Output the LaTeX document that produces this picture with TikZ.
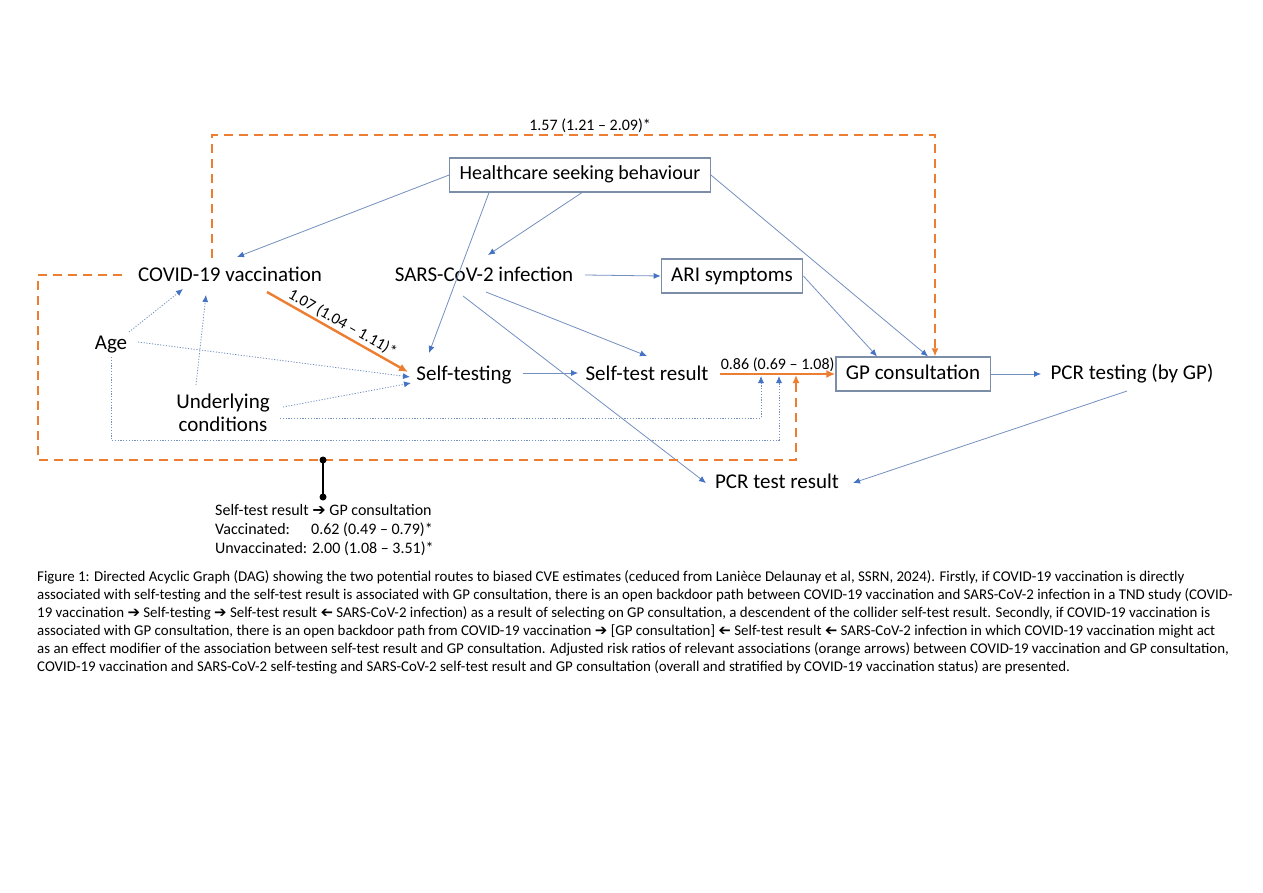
\documentclass[tikz,border=0pt]{standalone}
\usepackage{fontspec}
\usepackage{graphicx}
\setmainfont{Carlito}
\newfontfamily\arrowfont{DejaVu Sans}
\usetikzlibrary{calc}
\usetikzlibrary{arrows.meta}
\definecolor{dagblue}{HTML}{4472C4}
\definecolor{dagline}{HTML}{7490C0}
\definecolor{boxgray}{HTML}{7C8DA8}
\definecolor{dagorange}{HTML}{ED7D31}
\newcommand{\toarr}{{\arrowfont ➔}}
\newcommand{\fromarr}{\reflectbox{\arrowfont ➔}}

\begin{document}
\begin{tikzpicture}[x=1pt, y=-1pt,
  lbl/.style={font=\fontsize{21}{23}\selectfont, inner sep=2, text height=14, text depth=4},
  boxed/.style={lbl, draw=boxgray, line width=1.2, inner xsep=10, minimum height=34},
  numlbl/.style={font=\fontsize{16}{19}\selectfont, text=black, inner sep=2},
  conn/.style={dagline, line width=0.8, -{Latex[length=7,width=6,color=dagblue]}},
  dotconn/.style={conn, dash pattern=on 1.2pt off 1.6pt},
  orconn/.style={dagorange, line width=2.4, -{Latex[length=9,width=8]}},
  ordash/.style={dagorange, line width=1.9, dash pattern=on 9pt off 6pt, -{Latex[length=8,width=7]}},
  capt/.style={font=\fontsize{14.9}{18}\selectfont, align=left, inner sep=0}]
\useasboundingbox[fill=white] (0,0) rectangle (1263,893);

% variables
\node[boxed, font=\fontsize{20}{23}\selectfont] (hsb) at (580,175) {Healthcare seeking behaviour};
\node[lbl] (covid) at (230,277) {COVID-19 vaccination};
\node[lbl] (sars) at (484,277) {SARS-CoV-2 infection};
\node[boxed] (ari) at (732,276) {ARI symptoms};
\node[lbl] (age) at (111,344) {Age};
\node[font=\fontsize{21}{23}\selectfont, align=center, inner sep=2] (under) at (223,413) {Underlying\\conditions};
\node[lbl] (selftest) at (464,375) {Self-testing};
\node[lbl] (selfres) at (647,375) {Self-test result};
\node[boxed] (gp) at (913,374) {GP consultation};
\node[lbl] (pcrtest) at (1132,374) {PCR testing (by GP)};
\node[lbl] (pcrres) at (777,483) {PCR test result};

% causal arrows
\draw[conn] (hsb.west) -- ([xshift=7,yshift=20]covid.center);
\draw[conn] ([xshift=-91]hsb.south) -- ([xshift=-35,yshift=22]selftest.center);
\draw[conn] ([xshift=2]hsb.south) -- ([xshift=4,yshift=22]sars.center);
\draw[conn] (hsb.east) -- ([xshift=15]gp.north);
\draw[conn] (ari.east) -- ([xshift=-36]gp.north);
\draw[conn] ([xshift=101,yshift=2]sars.center) -- (ari.west);
\draw[conn] ([xshift=2,yshift=-15]sars.center) -- ([yshift=19]selfres.center);
\draw[conn] ([xshift=-21,yshift=-19]sars.center) -- ([xshift=-71]pcrres.center);
\draw[conn] ([xshift=59,yshift=2]selftest.center) -- ([xshift=-69,yshift=2]selfres.center);
\draw[conn] (gp.east) -- ([xshift=-91]pcrtest.center);
\draw[conn] ([xshift=-5,yshift=-17]pcrtest.center) -- ([xshift=76]pcrres.center);

% confounders
\coordinate (tapA) at (761,376);
\coordinate (tapB) at (779,376);
\draw[dotconn] ([xshift=18,yshift=12]age.center) -- ([xshift=-47,yshift=-12]covid.center);
\draw[dotconn] ([xshift=-27,yshift=28]under.center) -- ([xshift=-24,yshift=-18]covid.center);
\draw[dotconn] ([xshift=27,yshift=2]age.center) -- ([xshift=-54,yshift=-2]selftest.center);
\draw[dotconn] ([xshift=60,yshift=6]under.center) -- ([xshift=-53,yshift=-8]selftest.center);
\draw[dotconn] ([xshift=57,yshift=-5]under.center) -| (tapA);
\draw[dotconn] ([yshift=-13]age.center) |- ([yshift=-64]tapB) -- (tapB);

% orange associations
\draw[orconn] ([xshift=37,yshift=-15]covid.center) -- node[numlbl, sloped, above, pos=0.5] {1.07 (1.04 – 1.11)*} ([xshift=-56,yshift=3]selftest.center);
\draw[orconn] ([xshift=73,yshift=1]selfres.center) -- node[numlbl, above, inner sep=1] {0.86 (0.69 – 1.08)} (gp.west);

\coordinate (topbend) at (212,135);
\coordinate (gpTop) at ([xshift=22]gp.north);
\draw[ordash] ([xshift=-18,yshift=19]covid.center) -- (topbend) -- node[numlbl, above, pos=0.523, inner sep=1] {1.57 (1.21 – 2.09)*} (topbend -| gpTop) -- (gpTop);

\coordinate (boxnw) at (38,275);
\coordinate (boxsw) at (38,460);
\coordinate (tapC) at (796,375);
\draw[ordash] ([xshift=-108,yshift=2]covid.center) -- (boxnw) -- (boxsw) -| (tapC);

% stratified estimate
\coordinate (dotA) at (323,460);
\coordinate (dotB) at (323,497);
\draw[line width=1.6] (dotA) -- (dotB);
\fill (dotA) circle (3.5);
\fill (dotB) circle (3.5);
\node[numlbl, align=left, anchor=north west, inner sep=0] (strat) at (215,504) {Self-test result \toarr{} GP consultation\\
\makebox[96pt][l]{Vaccinated:}0.62 (0.49 – 0.79)*\\
Unvaccinated: 2.00 (1.08 – 3.51)*};

% caption
\node[capt, anchor=north west] (caption) at (37,570) {Figure 1: Directed Acyclic Graph (DAG) showing the two potential routes to biased CVE estimates (ceduced from Lanièce Delaunay et al, SSRN, 2024). Firstly, if COVID-19 vaccination is directly\\
associated with self-testing and the self-test result is associated with GP consultation, there is an open backdoor path between COVID-19 vaccination and SARS-CoV-2 infection in a TND study (COVID-\\
19 vaccination \toarr{} Self-testing \toarr{} Self-test result \fromarr{} SARS-CoV-2 infection) as a result of selecting on GP consultation, a descendent of the collider self-test result. Secondly, if COVID-19 vaccination is\\
associated with GP consultation, there is an open backdoor path from COVID-19 vaccination \toarr{} [GP consultation] \fromarr{} Self-test result \fromarr{} SARS-CoV-2 infection in which COVID-19 vaccination might act\\
as an effect modifier of the association between self-test result and GP consultation. Adjusted risk ratios of relevant associations (orange arrows) between COVID-19 vaccination and GP consultation,\\
COVID-19 vaccination and SARS-CoV-2 self-testing and SARS-CoV-2 self-test result and GP consultation (overall and stratified by COVID-19 vaccination status) are presented.};
\end{tikzpicture}
\end{document}
